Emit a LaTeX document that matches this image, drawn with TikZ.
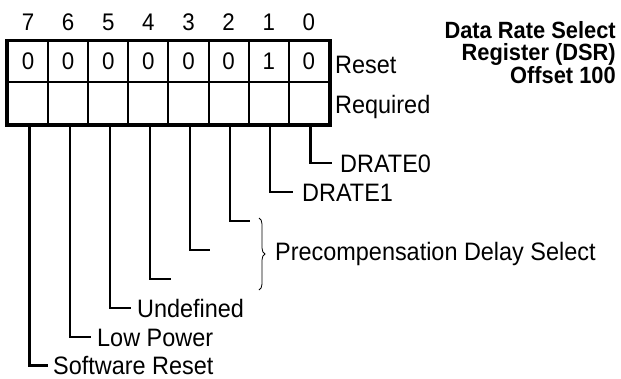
\documentclass[tikz,border=0pt]{standalone}
\usepackage{fontspec}
\setmainfont[FakeStretch=0.93]{Liberation Sans}
\usetikzlibrary{decorations.pathreplacing}
\begin{document}
\begin{tikzpicture}[x=1pt,y=-1pt,
  cell/.style={draw,line width=2pt,minimum width=40.125pt,inner sep=0pt,font=\fontsize{24}{26}\selectfont},
  bitnum/.style={inner sep=0pt,font=\fontsize{24}{26}\selectfont},
  lab/.style={anchor=west,inner sep=0pt,text height=18pt,text depth=0pt,font=\fontsize{25.2}{28}\selectfont},
  leader/.style={line width=2.3pt},
  bracestyle/.style={decorate,decoration={brace,amplitude=6pt},line width=0.8pt},
  title/.style={anchor=north east,inner sep=0pt,align=right,font=\fontsize{23.5}{21.5}\selectfont\bfseries},
  ]
\useasboundingbox (0,0) rectangle (621,378);
\foreach \b/\v in {7/0,6/0,5/0,4/0,3/0,2/0,1/1,0/0} {
  \node[cell,minimum height=40.5pt] (c\b) at ({28.06+40.125*(7-\b)},61.25) {\v};
  \node[cell,minimum height=42.5pt] (r\b) at ({28.06+40.125*(7-\b)},102.75) {};
  \node[bitnum] (n\b) at ({28.06+40.125*(7-\b)},22) {\b};
}
\draw[line width=3pt] (c7.north west) rectangle (r0.south east);

\node[lab] (reset) at (335,64) {Reset};
\node[lab] (req) at (335,104) {Required};
\node[title] (ttl) at (616,21.5) {Data Rate Select\\Register (DSR)\\Offset 100};

\node[lab] (d0) at (340,163) {DRATE0};
\node[lab] (d1) at (302,192) {DRATE1};
\node[lab] (pd) at (275,251) {Precompensation Delay Select};
\node[lab] (ud) at (137,308) {Undefined};
\node[lab] (lp) at (97,337) {Low Power};
\node[lab] (sr) at (53,365.5) {Software Reset};
\coordinate (e2) at (250,221);
\coordinate (e3) at (210,250);
\coordinate (e4) at (171,279);

\draw[leader] ([xshift=1.5pt]r0.south) |- ([xshift=-8pt]d0.west);
\draw[leader] ([xshift=1.5pt]r1.south) |- ([xshift=-9pt]d1.west);
\draw[leader] ([xshift=1.5pt]r2.south) |- (e2);
\draw[leader] ([xshift=1.5pt]r3.south) |- (e3);
\draw[leader] ([xshift=1.5pt]r4.south) |- (e4);
\draw[leader] ([xshift=1.5pt]r5.south) |- ([xshift=-6pt]ud.west);
\draw[leader] ([xshift=1.5pt]r6.south) |- ([xshift=-6pt]lp.west);
\draw[leader] ([xshift=1.5pt]r7.south) |- ([xshift=-5pt]sr.west);

\coordinate (bt) at (259,218);
\coordinate (bb) at (259,290);
\draw[bracestyle] (bt) -- (bb);
\end{tikzpicture}
\end{document}
